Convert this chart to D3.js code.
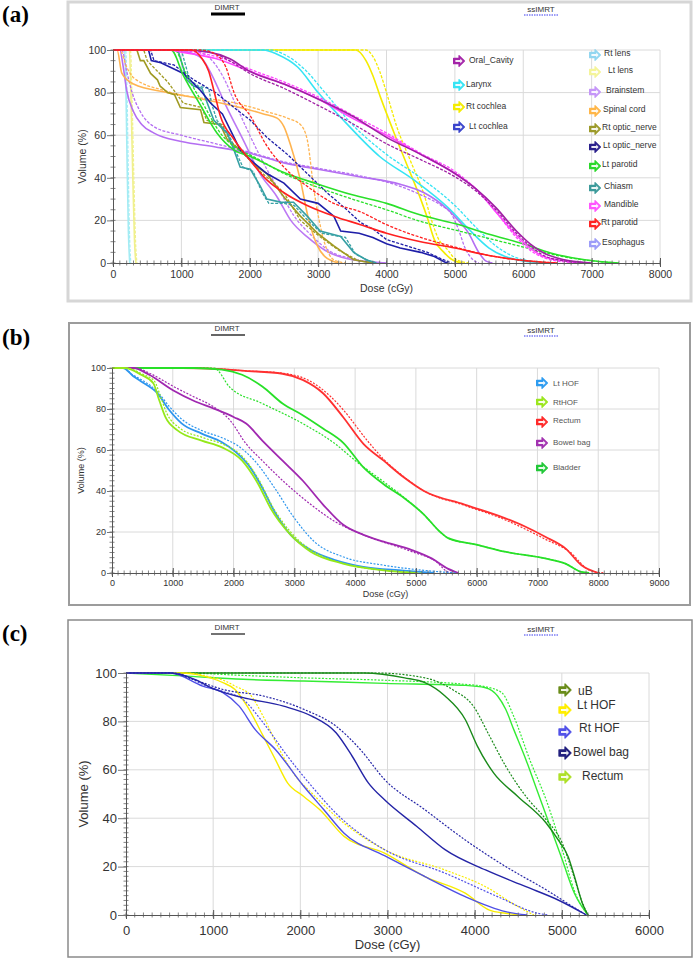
<!DOCTYPE html>
<html>
<head>
<meta charset="utf-8">
<script src="https://cdnjs.cloudflare.com/ajax/libs/d3/7.8.5/d3.min.js"></script>
<style>
  body { margin: 0; background: #fff; }
  svg { display: block; font-family: "Liberation Sans", Arial, sans-serif; }
</style>
</head>
<body>
<svg id="chart" width="694" height="959"></svg>
<script>
/* DVH comparison, three panels: DIMRT (solid) vs ssIMRT (dashed) */

// ---------- shared ticks ----------
const yTicks  = [0, 20, 40, 60, 80, 100];
const xTicksA = [0, 1000, 2000, 3000, 4000, 5000, 6000, 7000, 8000];
const xTicksB = [0, 1000, 2000, 3000, 4000, 5000, 6000, 7000, 8000, 9000];
const xTicksC = [0, 1000, 2000, 3000, 4000, 5000, 6000];

// ---------- panel (a): head & neck ----------  [dose cGy, volume %]
const aRtLensS = [[0,100],[170,100],[190,80],[205,50],[225,15],[245,0]];
const aRtLensD = [[0,100],[185,100],[205,80],[220,50],[240,15],[260,0]];
const aLtLensS = [[0,100],[240,100],[265,75],[290,40],[315,10],[335,0]];
const aLtLensD = [[0,100],[255,100],[280,75],[305,40],[330,10],[350,0]];
const aCochleaRS = [[0,100],[3550,100],[3700,95],[3800,88],[3910,78],[4100,62],[4300,46],[4500,30],[4600,21],[4700,11],[4840,5],[4940,2],[5100,0]];
const aCochleaRD = [[0,100],[3700,100],[3800,97],[3900,90],[4000,80],[4150,64],[4350,48],[4550,32],[4650,21],[4750,12],[4900,6],[5000,2],[5200,0]];
const aLarynxS = [[0,100],[2200,100],[2400,98],[2700,92],[3000,80],[3400,66],[3900,50],[4400,39],[4900,26],[5200,16],[5500,7],[5900,1.5],[6300,0]];
const aLarynxD = [[0,100],[2300,100],[2500,98],[2800,91],[3100,80],[3500,65],[4000,51],[4500,40],[5000,27],[5300,17],[5600,8],[6000,1.5],[6400,0]];
const aEsophS = [[0,100],[100,100],[150,92],[200,81],[300,71],[420,65],[600,61],[1000,57],[1500,54.5],[2000,51.5],[2500,47],[3000,44],[3600,40.5],[4200,37],[4550,33],[4900,25],[5050,20],[5200,14],[5350,5],[5450,1],[5550,0]];
const aEsophD = [[0,100],[130,100],[200,90],[280,80],[400,71],[600,64],[1000,60],[1500,56],[2000,52],[2500,47.5],[3000,44.5],[3600,41],[4200,36],[4500,32],[4800,27],[4950,23],[5050,16],[5150,7],[5250,2],[5350,0]];
const aBrainS = [[0,100],[900,100],[1100,99],[1300,96],[1450,88],[1650,74],[1900,58],[2150,42],[2400,31],[2600,20],[2850,12],[3100,6],[3500,1.5],[4000,0]];
const aBrainD = [[0,100],[1000,100],[1250,99],[1450,95],[1600,88],[1800,74],[2000,60],[2250,44],[2450,33],[2650,22],[2900,13],[3150,6],[3500,2],[4000,0]];
const aSpinalS = [[0,100],[60,100],[130,89],[300,84],[800,80],[1300,77],[1800,73.5],[2200,70],[2400,68],[2500,64],[2600,55],[2740,39],[2850,22],[2990,8],[3100,3],[3300,0]];
const aSpinalD = [[0,100],[100,100],[200,92],[300,87],[800,80.5],[1800,75],[2250,71],[2550,68],[2740,65],[2840,58],[2940,34],[3080,11],[3230,1.5],[3400,0]];
const aOpticRS = [[0,100],[350,100],[400,95],[450,95],[550,89],[650,86],[690,83],[800,80],[900,79],[985,73],[1280,72],[1330,66],[1570,65],[1670,58],[1910,51.5],[2110,45],[2250,42],[2500,31],[2740,22],[2990,14],[3230,8],[3520,1.5],[3800,0]];
const aOpticRD = [[0,100],[450,100],[500,95],[650,90],[800,85],[1030,75],[1300,73],[1370,67],[1600,65],[1700,58],[1950,50],[2150,43],[2300,39],[2500,33],[2740,20],[3000,13],[3300,6],[3600,1],[3800,0]];
const aChiasmS = [[0,100],[950,100],[1080,86],[1180,83],[1300,82],[1380,75],[1475,67],[1670,61],[1770,53],[1860,45],[2010,44],[2155,36],[2250,30],[2450,28.6],[2640,28.5],[2840,22],[3030,15],[3330,12.5],[3520,5],[3700,1.5],[3850,0]];
const aChiasmD = [[0,100],[1000,100],[1120,86],[1250,83],[1400,82],[1440,75],[1520,67],[1700,60],[1800,52],[1900,45],[2050,43],[2180,33],[2280,28],[2500,28],[2650,27],[2850,20],[3050,14],[3400,12],[3550,4],[3750,1],[3850,0]];
const aOpticLS = [[0,100],[520,100],[560,95],[700,94],[900,91],[1030,89],[1280,81],[1430,75],[1600,70],[1770,59],[1860,53],[2060,47],[2250,42],[2500,37.5],[2740,30],[3000,28],[3230,22],[3330,15],[3600,14],[3800,12],[4000,9],[4200,7],[4500,5],[4700,3],[4850,0.5],[4900,0]];
const aOpticLD = [[0,100],[550,100],[600,95],[890,93],[1180,86],[1500,80],[1770,73],[2010,67],[2250,59],[2550,51],[2840,42],[3130,33],[3420,25],[3620,19],[3800,16],[4000,11],[4300,8],[4600,5],[4800,2],[4950,0]];
const aParotidLS = [[0,100],[850,100],[1030,88],[1280,74],[1520,61],[1770,53],[2010,50],[2500,42.5],[3000,37],[3500,32],[4000,28],[4500,22.5],[5000,18.5],[5500,13.5],[6000,9],[6400,4.7],[6900,1.5],[7400,0]];
const aParotidLD = [[0,100],[900,100],[1080,88],[1330,74],[1570,61],[1800,54],[2050,50],[2500,42],[3000,35.5],[3500,30],[4000,25],[4500,19.5],[5000,15.5],[5500,11.5],[6000,7.5],[6500,3.5],[7000,1],[7400,0]];
const aMandibleS = [[0,100],[800,100],[1000,99],[1500,96],[2000,90],[2500,84],[3000,77],[3500,68],[4000,60],[4500,51],[5000,42],[5300,35],[5600,24],[5900,13],[6100,7],[6300,3],[6600,1],[6900,0]];
const aMandibleD = [[0,100],[900,100],[1200,99],[1600,96],[2000,91],[2500,85],[3000,78],[3500,69.5],[4000,61],[4500,51.5],[5000,43],[5300,35],[5600,24],[5900,12],[6100,6],[6300,2.5],[6600,0.5],[6900,0]];
const aOralS = [[0,100],[1000,100],[1400,99],[1700,96],[2000,90],[2500,84],[3000,77],[3500,69],[4000,59],[4500,51],[5000,42],[5300,35],[5600,26],[5900,15],[6100,9],[6300,4.7],[6600,1.5],[7000,0]];
const aOralD = [[0,100],[1000,100],[1400,99],[1700,95],[2000,89],[2500,82],[3000,74],[3500,65.5],[4000,56],[4500,48.5],[5000,40.5],[5300,34],[5600,25],[5900,14],[6100,8],[6300,3.5],[6600,1],[7000,0]];
const aParotidRS = [[0,100],[1150,100],[1300,96],[1400,90],[1475,81],[1570,69],[1770,58],[2010,48],[2250,39],[2500,33],[2840,27],[3230,22],[3620,18],[4000,14],[4500,10],[5000,7],[5500,3.5],[6000,1.2],[6500,0]];
const aParotidRD = [[0,100],[1300,100],[1500,98],[1650,92],[1770,80],[2010,69],[2250,55],[2500,45],[2840,36],[3230,28],[3620,24],[4000,18],[4500,12],[5000,7.5],[5500,3.5],[6000,1.2],[6500,0]];

const legendA1 = ["Oral_Cavity", "Larynx", "Rt cochlea", "Lt cochlea"];
const legendA2 = ["Rt lens", "Lt lens", "Brainstem", "Spinal cord", "Rt optic_nerve", "Lt optic_nerve", "Lt parotid", "Chiasm", "Mandible", "Rt parotid", "Esophagus"];

// ---------- panel (b): pelvis ----------
const bLtHofS = [[0,100],[180,100],[350,96],[480,93.4],[745,87.7],[945,79.4],[1145,73],[1476,68],[1809,63.8],[2010,59.7],[2274,51.5],[2473,41.6],[2673,30],[2940,18.6],[3270,11.2],[3670,6.3],[4135,3],[4800,1.2],[5300,0]];
const bLtHofD = [[0,100],[180,100],[350,96.5],[500,94],[745,88.5],[950,81],[1150,75],[1476,69.5],[1809,66],[2075,62],[2340,55],[2673,41.6],[3000,26.8],[3340,15],[3800,7.9],[4470,3.8],[5130,1.3],[5660,0]];
const bRtHofS = [[0,100],[210,100],[480,96.7],[680,92.6],[780,84],[880,76],[1077,69.6],[1476,64.6],[1809,61.3],[2141,54.8],[2407,43.3],[2607,31.7],[2940,18.6],[3270,10.4],[3800,4.6],[4470,1.3],[5000,0]];
const bRtHofD = [[0,100],[230,100],[500,97],[700,93.5],[800,86],[900,78],[1100,71],[1500,66],[1850,62.5],[2141,57],[2407,46],[2650,32],[3000,18],[3350,10],[3900,4],[4600,1],[5100,0]];
const bBowelS = [[0,100],[350,100],[612,96.7],[1010,89],[1343,84],[1676,80.2],[2008,76],[2207,72.9],[2473,64.6],[2806,54.8],[3140,45],[3472,33.4],[3805,23.5],[4137,18.6],[4470,15.3],[4934,11.2],[5266,7],[5532,2],[5700,0]];
const bBowelD = [[0,100],[380,100],[650,97],[1010,91],[1343,86],[1676,81],[1942,74.5],[2207,63],[2473,54.8],[2873,43.3],[3272,33.4],[3672,25],[4137,18.6],[4934,10.4],[5332,5.6],[5530,0.5],[5650,0]];
const bRectumS = [[0,100],[1143,100],[1809,99.5],[2141,98.7],[2806,97.2],[3138,94.2],[3472,87.7],[3805,76],[4137,63],[4470,54.8],[4800,46.7],[5133,40],[5800,33.4],[6463,26.8],[6795,22.7],[7128,17.7],[7460,12],[7725,3.8],[8000,0]];
const bRectumD = [[0,100],[1143,100],[1809,99.5],[2141,98.7],[2806,97.5],[3270,93.4],[3600,86],[3805,79.6],[4200,64.6],[4470,55.5],[4800,47],[5133,40],[5800,33],[6463,26],[6795,21.5],[7128,16.5],[7527,10.4],[7860,1.3],[8100,0]];
const bBladderS = [[0,100],[1343,100],[1809,99.2],[2141,96.7],[2473,91],[2806,82.7],[3138,77],[3472,70.5],[3805,63.5],[4137,51.5],[4470,43.3],[4800,36.7],[5133,28.5],[5400,20],[5532,17],[5998,13.8],[6463,10.4],[7128,7.1],[7460,4.6],[7725,0.5],[7850,0]];
const bBladderD = [[0,100],[1676,100],[1942,90.5],[2473,82.7],[3138,72.9],[3672,63],[4004,54.8],[4470,44.5],[4800,37],[5133,28.5],[5400,20],[5532,17],[5998,13.8],[6463,10.4],[7128,7.1],[7460,4.6],[7725,0.5],[7850,0]];

const legendB = ["Lt HOF", "RtHOF", "Rectum", "Bowel bag", "Bladder"];

// ---------- panel (c): pelvis ----------
const cUbS = [[0,100],[2734,100],[3197,98],[3429,96],[3660,90.5],[3892,80.8],[4031,69.8],[4217,58.7],[4495,49],[4820,38],[4958,31],[5074,24],[5144,16],[5236,4.8],[5300,0]];
const cUbD = [[0,100],[2873,100],[3429,98],[3753,93],[3985,86.3],[4170,74],[4356,61.5],[4588,49],[4820,39.4],[5005,29.7],[5120,18],[5236,5],[5300,0]];
const cRectumS = [[0,100],[649,98.8],[1344,97.4],[2039,96.7],[2966,95.7],[3892,94.9],[4125,93.9],[4263,90.5],[4356,85],[4449,76.6],[4588,64.2],[4727,50.4],[4866,36.6],[5005,22.8],[5144,9],[5300,0]];
const cRectumD = [[0,100],[649,100],[1344,99],[2039,98],[2966,97],[3892,95.3],[4125,94.3],[4310,91.9],[4449,82],[4634,64],[4820,47.6],[5005,27],[5144,10],[5300,0]];
const cLtHofS = [[0,100],[649,100],[880,98.8],[1112,96],[1251,93.2],[1390,86.3],[1575,73.9],[1714,64.2],[1853,54.6],[2039,49],[2224,43.5],[2502,32.5],[2966,25.6],[3429,15.9],[3892,9],[4170,2],[4356,0.7],[4500,0]];
const cLtHofD = [[0,100],[700,100],[950,98.5],[1150,96.5],[1251,94.6],[1437,90.5],[1575,82],[1760,68.4],[1946,57.3],[2131,50.4],[2410,40.7],[2966,27],[3660,18.6],[4125,11.7],[4495,3.5],[4680,0]];
const cRtHofS = [[0,100],[510,100],[880,94.6],[1112,91.9],[1298,86.3],[1483,76.6],[1714,68.4],[2039,53.2],[2270,43.5],[2502,33.8],[2966,24.5],[3429,15.9],[3892,7.6],[4356,1.4],[4600,0]];
const cRtHofD = [[0,100],[560,100],[900,95],[1100,92.5],[1344,89],[1575,79.4],[1853,65.6],[2131,53.2],[2410,42],[2966,27],[3660,17.3],[4263,7.6],[4727,0.7],[4850,0]];
const cBowelS = [[0,100],[510,100],[788,97.4],[1020,93.2],[1344,89.8],[1807,86.3],[2131,82.2],[2410,75.3],[2595,65.6],[2780,54.6],[2966,47.6],[3337,36.6],[3660,27],[4125,18.6],[4588,11.7],[4958,6.2],[5283,0]];
const cBowelD = [[0,100],[510,100],[800,97],[1112,93.2],[1575,90.5],[2039,85],[2410,78],[2688,68.4],[2966,56],[3429,43.5],[3892,31],[4356,20],[4820,10.4],[5190,2],[5283,0]];

const legendC = ["uB", "Lt HOF", "Rt HOF", "Bowel bag", "Rectum"];

// ---------- styles ----------
const colA = {
  "Oral_Cavity": "#a424a8", "Larynx": "#36e4f4", "Rt cochlea": "#f4ec00", "Lt cochlea": "#3a44cc",
  "Rt lens": "#92d6f0", "Lt lens": "#f4f49a", "Brainstem": "#c596f8", "Spinal cord": "#ffb648",
  "Rt optic_nerve": "#9c9a2a", "Lt optic_nerve": "#2a208c", "Lt parotid": "#2ad82a", "Chiasm": "#3c9a9a",
  "Mandible": "#ff55ff", "Rt parotid": "#ff2424", "Esophagus": "#9c9cf8"
};
const colB = { "Lt HOF": "#2e9cf0", "RtHOF": "#9be61e", "Rectum": "#ff2a2a", "Bowel bag": "#a232b0", "Bladder": "#22c838" };
const colC = { "uB": "#6a8c1a", "Lt HOF": "#ffee00", "Rt HOF": "#5252e8", "Bowel bag": "#22207e", "Rectum": "#aee02a" };

// curve table (drawing order = z order)
const seriesA = [
  { s: aCochleaRS, d: aCochleaRD, c: "#f4ec00" },
  { s: aRtLensS,   d: aRtLensD,   c: "#a4ecf4" },
  { s: aLtLensS,   d: aLtLensD,   c: "#f0f08c" },
  { s: aLarynxS,   d: aLarynxD,   c: "#36e4f4" },
  { s: aEsophS,    d: aEsophD,    c: "#b46ef2" },
  { s: aBrainS,    d: aBrainD,    c: "#bc78f4" },
  { s: aSpinalS,   d: aSpinalD,   c: "#ffb450" },
  { s: aOpticRS,   d: aOpticRD,   c: "#a09a22", step: true },
  { s: aChiasmS,   d: aChiasmD,   c: "#36a0a4", step: true },
  { s: aOpticLS,   d: aOpticLD,   c: "#1e1ea8", step: true },
  { s: aParotidLS, d: aParotidLD, c: "#2ae02a" },
  { s: aMandibleS, d: aMandibleD, c: "#ff44ff" },
  { s: aOralS,     d: aOralD,     c: "#a020a4" },
  { s: aParotidRS, d: aParotidRD, c: "#ff2020" }
];
const seriesB = [
  { s: bRectumS,  d: bRectumD,  c: "#ff3030" },
  { s: bBladderS, d: bBladderD, c: "#28e028" },
  { s: bBowelS,   d: bBowelD,   c: "#a028b0" },
  { s: bLtHofS,   d: bLtHofD,   c: "#2e96ee" },
  { s: bRtHofS,   d: bRtHofD,   c: "#94e81a" }
];
const seriesC = [
  { s: cRectumS, d: cRectumD, c: "#34ec34" },
  { s: cUbS,     d: cUbD,     c: "#1a8a1a" },
  { s: cLtHofS,  d: cLtHofD,  c: "#f8ec00" },
  { s: cRtHofS,  d: cRtHofD,  c: "#5050e6" },
  { s: cBowelS,  d: cBowelD,  c: "#2424a6" }
];

const svg = d3.select("#chart");

function arrow(g, cx, cy, color, k) {
  const a = g.append("g").attr("transform", `translate(${cx},${cy}) scale(${k})`);
  a.append("path").attr("d", "M-6,-3 L0,-3 L0,-6 L6,0 L0,6 L0,3 L-6,3 Z")
    .attr("fill", color).attr("stroke", color).attr("stroke-width", 1.3).attr("stroke-linejoin", "round");
  a.append("path").attr("d", "M-4,-1.1 L1.4,-1.1 L1.4,-2.8 L4,0 L1.4,2.8 L1.4,1.1 L-4,1.1 Z")
    .attr("fill", "#fff").attr("opacity", 0.9);
}

function drawPanel(p, series, xTicks) {
  const g = svg.append("g");

  g.append("rect")
    .attr("x", p.frame[0]).attr("y", p.frame[1]).attr("width", p.frame[2]).attr("height", p.frame[3])
    .attr("fill", "none").attr("stroke", p.frameColor).attr("stroke-width", p.frameW);

  g.append("text").attr("x", 2).attr("y", p.tagY)
    .attr("font-family", "'Liberation Serif','Times New Roman',serif").attr("font-weight", "bold")
    .attr("font-size", 23).attr("fill", "#000").text(p.tag);

  const x = d3.scaleLinear().domain([0, p.xMax]).range([p.left, p.right]);
  const y = d3.scaleLinear().domain([0, 100]).range([p.bottom, p.top]);

  // gridlines
  g.append("g").selectAll("line").data(xTicks.slice(1)).join("line")
    .attr("x1", d => x(d)).attr("x2", d => x(d)).attr("y1", y(0)).attr("y2", y(100))
    .attr("stroke", "#dadada").attr("stroke-width", 1);
  g.append("g").selectAll("line").data(yTicks.slice(1)).join("line")
    .attr("x1", x(0)).attr("x2", x(p.xMax)).attr("y1", d => y(d)).attr("y2", d => y(d))
    .attr("stroke", "#dadada").attr("stroke-width", 1);

  // header legend
  const h = p.head;
  g.append("text").attr("x", 227).attr("y", h.y).attr("text-anchor", "middle")
    .attr("font-size", 8).attr("fill", "#333").text("DIMRT");
  g.append("line").attr("x1", 211).attr("x2", 245).attr("y1", h.y + 4).attr("y2", h.y + 4)
    .attr("stroke", h.lineColor).attr("stroke-width", h.lineW);
  g.append("text").attr("x", 541).attr("y", h.y + 2).attr("text-anchor", "middle")
    .attr("font-size", 8).attr("fill", "#333").text("ssIMRT");
  g.append("line").attr("x1", 524).attr("x2", 558).attr("y1", h.y + 5).attr("y2", h.y + 5)
    .attr("stroke", "#3a3af0").attr("stroke-width", 1.2).attr("stroke-dasharray", "1.5,1");

  // curves
  const smooth = d3.line().x(d => x(d[0])).y(d => y(d[1])).curve(d3.curveMonotoneX);
  const jagged = d3.line().x(d => x(d[0])).y(d => y(d[1]));
  series.forEach(sr => {
    const ln = sr.step ? jagged : smooth;
    g.append("path").datum(sr.d).attr("d", ln).attr("fill", "none")
      .attr("stroke", sr.c).attr("stroke-width", p.dashW).attr("stroke-dasharray", p.dash);
    g.append("path").datum(sr.s).attr("d", ln).attr("fill", "none")
      .attr("stroke", sr.c).attr("stroke-width", p.solidW);
  });

  // minor ticks
  g.append("g").selectAll("line").data(d3.range(0, p.xMax + 1, 100)).join("line")
    .attr("x1", d => x(d)).attr("x2", d => x(d)).attr("y1", y(0) - 2.5).attr("y2", y(0) + 2.5)
    .attr("stroke", "#666").attr("stroke-width", 0.8);
  g.append("g").selectAll("line").data(d3.range(0, 101, p.yMinor)).join("line")
    .attr("x1", x(0) - 2.5).attr("x2", x(0) + 2.5).attr("y1", d => y(d)).attr("y2", d => y(d))
    .attr("stroke", "#666").attr("stroke-width", 0.8);

  // axes
  const ax = g.append("g").attr("transform", `translate(0,${y(0)})`)
    .call(d3.axisBottom(x).tickValues(xTicks).tickFormat(d3.format("d"))
      .tickSizeInner(4).tickSizeOuter(0).tickPadding(p.xPad));
  ax.selectAll(".tick line").attr("y1", -5).attr("stroke", "#555");
  ax.select(".domain").attr("stroke", "#555");
  ax.selectAll("text").attr("font-size", p.fs).attr("fill", "#333").attr("font-family", p.font);

  const ay = g.append("g").attr("transform", `translate(${x(0)},0)`)
    .call(d3.axisLeft(y).tickValues(yTicks).tickFormat(d3.format("d"))
      .tickSizeInner(p.yTick).tickSizeOuter(0).tickPadding(1));
  ay.selectAll(".tick line").attr("stroke", "#777");
  ay.select(".domain").attr("stroke", "#555");
  ay.selectAll("text").attr("font-size", p.fs).attr("fill", "#333").attr("font-family", p.font);

  g.append("text").attr("x", (x(0) + x(p.xMax)) / 2).attr("y", p.doseY).attr("text-anchor", "middle")
    .attr("font-size", p.fs).attr("fill", "#333").attr("font-family", p.font).text("Dose (cGy)");
  g.append("text").attr("transform", `translate(${p.volX},${(y(0) + y(100)) / 2}) rotate(-90)`)
    .attr("text-anchor", "middle").attr("font-size", p.fs).attr("fill", "#333")
    .attr("font-family", p.font).text("Volume (%)");

  return g;
}

// ---------- panel (a) ----------
const gA = drawPanel({
  tag: "(a)", tagY: 22, frame: [68, 2, 623, 299], frameColor: "#d6d6d6", frameW: 3,
  left: 113, right: 660, top: 50, bottom: 263, xMax: 8000, yMinor: 5, yTick: 6,
  fs: 10.5, font: "'Liberation Sans Narrow','Liberation Sans',Arial,sans-serif", xPad: 4, doseY: 292, volX: 86,
  solidW: 1.6, dashW: 1.3, dash: "3,1.5",
  head: { y: 10, lineColor: "#000", lineW: 3 }
}, seriesA, xTicksA);

const legA1Y = [61, 85, 107, 127], legA1Tx = [469, 466, 466, 469];
legendA1.forEach((n, i) => {
  arrow(gA, 459, legA1Y[i], colA[n], 0.9);
  gA.append("text").attr("x", legA1Tx[i]).attr("y", legA1Y[i] - 1).attr("dy", "0.35em")
    .attr("font-size", 8.5).attr("fill", "#333").text(n);
});
const legA2Y = [55, 72, 92, 111, 129, 147, 166, 188, 206, 224, 244];
const legA2Tx = [604, 608, 606, 603, 602, 603, 602, 604, 604, 601, 602];
legendA2.forEach((n, i) => {
  arrow(gA, 595, legA2Y[i], colA[n], 0.9);
  gA.append("text").attr("x", legA2Tx[i]).attr("y", legA2Y[i] - 2).attr("dy", "0.35em")
    .attr("font-size", 8.5).attr("fill", "#333").text(n);
});

// ---------- panel (b) ----------
const gB = drawPanel({
  tag: "(b)", tagY: 345, frame: [69, 323, 621, 282], frameColor: "#9c9c9c", frameW: 2,
  left: 112, right: 659, top: 368, bottom: 573, xMax: 9000, yMinor: 2.5, yTick: 5,
  fs: 9, font: "'Liberation Sans',Arial,sans-serif", xPad: 3, doseY: 597, volX: 84,
  solidW: 1.8, dashW: 1.2, dash: "2,1.5",
  head: { y: 331, lineColor: "#333", lineW: 1.5 }
}, seriesB, xTicksB);

const legBY = [383, 402, 422, 443, 468], legBTy = [383, 402, 420, 442, 467];
legendB.forEach((n, i) => {
  arrow(gB, 542, legBY[i], colB[n], 0.9);
  gB.append("text").attr("x", 553).attr("y", legBTy[i]).attr("dy", "0.35em")
    .attr("font-size", 8).attr("fill", "#555").text(n);
});

// ---------- panel (c) ----------
const gC = drawPanel({
  tag: "(c)", tagY: 641, frame: [68, 620, 624, 337], frameColor: "#8a8a8a", frameW: 1.5,
  left: 126, right: 649, top: 673, bottom: 915, xMax: 6000, yMinor: 2, yTick: 8,
  fs: 13, font: "'Liberation Sans',Arial,sans-serif", xPad: 7, doseY: 949, volX: 88,
  solidW: 1.4, dashW: 1.2, dash: "2,1.5",
  head: { y: 630, lineColor: "#444", lineW: 1.5 }
}, seriesC, xTicksC);

const legCY = [690, 710, 732, 753, 777], legCTy = [691, 705, 728, 752, 776];
const legCTx = [578, 577, 579, 573, 582];
legendC.forEach((n, i) => {
  arrow(gC, 565, legCY[i], colC[n], 1.0);
  gC.append("text").attr("x", legCTx[i]).attr("y", legCTy[i]).attr("dy", "0.35em")
    .attr("font-size", 12).attr("fill", "#333").text(n);
});
</script>
</body>
</html>
